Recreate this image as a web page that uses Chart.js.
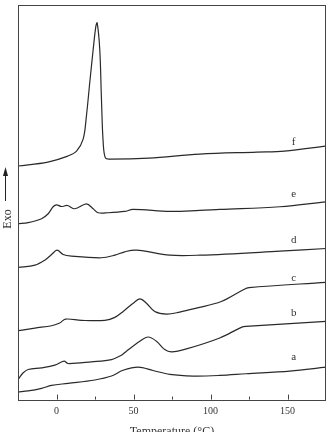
<!DOCTYPE html>
<html>
<head>
<meta charset="utf-8">
<script src="https://cdn.jsdelivr.net/npm/chart.js@4.4.1/dist/chart.umd.min.js"></script>
<style>
  body { margin: 0; background: #fff; }
  canvas { display: block; }
</style>
</head>
<body>
<canvas id="dscChart" width="331" height="432"></canvas>
<script>
// curves (temperature in °C, heat flow in arbitrary units, exo up)
const tempA = [-25, -18.4, -9.7, -3.2, 7.5, 24.9, 35.7, 43.2, 53, 62.7, 73.6, 88.7, 106, 123, 151.5, 175];
const heatA = [7.7, 8.7, 11.3, 14.3, 16.3, 19.7, 23.7, 29.5, 32.7, 29.3, 25.3, 23.7, 24.3, 26, 28.7, 32.7];

const tempB = [-25, -21.6, -18.4, -9.7, -1.1, 4.9, 7.5, 22.7, 35.7, 42.2, 45.4, 54.1, 59.5, 64.9, 70.3, 74.7, 84.4, 106, 120, 123, 175];
const heatB = [20.3, 27, 30.3, 32, 34.7, 38.7, 36.3, 38, 40.3, 44.7, 48.7, 58.7, 63, 58.7, 50.3, 48, 51, 62, 72.7, 73.7, 78.7];

const tempC = [-25, -14, -3.2, 2.1, 5.8, 16.2, 31.4, 37.9, 43.3, 49.8, 54.1, 58.4, 63.8, 71.4, 80, 90.8, 107, 121, 125, 175];
const heatC = [69.3, 72, 74.3, 77, 81, 79.7, 79.7, 82.7, 88.7, 97, 101.3, 97, 88.7, 86, 88, 92, 98.7, 110.3, 112.7, 118];

const tempD = [-25, -14, -7.6, -3.2, 0.4, 4.3, 9.7, 29.2, 37.9, 44.3, 51.9, 73.6, 93, 145, 175];
const heatD = [133, 135.3, 140.3, 146, 150.3, 146, 144.3, 142.7, 145.3, 148.7, 150.3, 145.3, 145.3, 149.3, 152];

const tempE = [-25, -18.4, -9.7, -5.4, -2.2, 0, 3.2, 7.1, 11.9, 19.5, 23.8, 27, 33.5, 44.3, 49.6, 73.6, 93, 106, 145, 175];
const heatE = [177, 178, 182, 187, 194, 196, 194.3, 195.3, 192, 197, 192, 188, 188, 189.3, 191.3, 189.3, 190.3, 191.3, 194, 199];

const tempF = [-25, -5.6, 7.3, 13, 17.3, 19.4, 21.6, 23.8, 25.5, 26.4, 28.1, 29.2, 30.3, 31.8, 35, 60, 93, 130, 148, 175];
const heatF = [235, 239, 245, 250, 262, 285, 319, 352, 375, 379, 352, 302, 259, 243, 242, 243, 247, 249, 250, 255];

const curveNames = ['a', 'b', 'c', 'd', 'e', 'f'];
const labelTemp = 154;
const labelHeat = [43, 87, 122, 160, 207, 259];

const majorTicks = [0, 50, 100, 150];
const minorTicks = [25, 75, 125];

const serif = 'Liberation Serif, Times New Roman, serif';
const ink = '#2a2a2a';

const toPoints = (xs, ys) => xs.map((x, i) => ({ x: x, y: ys[i] }));
const curves = [[tempA, heatA], [tempB, heatB], [tempC, heatC], [tempD, heatD], [tempE, heatE], [tempF, heatF]];

// frame, inward ticks, curve letters and the Exo arrow
const decorations = {
  id: 'decorations',
  beforeDraw(chart) {
    const ctx = chart.ctx;
    ctx.save();
    ctx.fillStyle = '#fff';
    ctx.fillRect(0, 0, chart.width, chart.height);
    ctx.restore();
  },
  afterDraw(chart) {
    const ctx = chart.ctx;
    const area = chart.chartArea;
    const xs = chart.scales.x;
    const ys = chart.scales.y;
    ctx.save();
    ctx.strokeStyle = '#444';
    ctx.lineWidth = 1;
    ctx.strokeRect(Math.round(area.left) + 0.5, Math.round(area.top) + 0.5,
      Math.round(area.right - area.left) - 1, Math.round(area.bottom - area.top));

    majorTicks.forEach(v => {
      const px = Math.round(xs.getPixelForValue(v)) + 0.5;
      ctx.beginPath();
      ctx.moveTo(px, area.bottom);
      ctx.lineTo(px, area.bottom - 5);
      ctx.stroke();
    });
    minorTicks.forEach(v => {
      const px = Math.round(xs.getPixelForValue(v)) + 0.5;
      ctx.beginPath();
      ctx.moveTo(px, area.bottom);
      ctx.lineTo(px, area.bottom - 3);
      ctx.stroke();
    });

    ctx.fillStyle = '#333';
    ctx.font = '11px ' + serif;
    ctx.textAlign = 'center';
    ctx.textBaseline = 'middle';
    curveNames.forEach((n, i) => {
      ctx.fillText(n, xs.getPixelForValue(labelTemp), ys.getPixelForValue(labelHeat[i]));
    });

    // Exo label with arrow
    ctx.save();
    ctx.translate(8, 219);
    ctx.rotate(-Math.PI / 2);
    ctx.font = '12px ' + serif;
    ctx.fillText('Exo', 0, 0);
    ctx.restore();

    ctx.strokeStyle = '#222';
    ctx.beginPath();
    ctx.moveTo(5.5, 201);
    ctx.lineTo(5.5, 174);
    ctx.stroke();
    ctx.fillStyle = '#222';
    ctx.beginPath();
    ctx.moveTo(5.5, 167);
    ctx.lineTo(3, 176);
    ctx.lineTo(8, 176);
    ctx.closePath();
    ctx.fill();
    ctx.restore();
  }
};

new Chart(document.getElementById('dscChart'), {
  type: 'line',
  data: {
    datasets: curves.map((c, i) => ({
      label: curveNames[i],
      data: toPoints(c[0], c[1]),
      borderColor: ink,
      borderWidth: 1.2,
      pointRadius: 0,
      fill: false,
      tension: 0.35
    }))
  },
  options: {
    responsive: false,
    animation: false,
    devicePixelRatio: 1,
    layout: { padding: { left: 18, right: 5, top: 5, bottom: 0 } },
    plugins: { legend: { display: false }, tooltip: { enabled: false } },
    scales: {
      x: {
        type: 'linear',
        min: -25,
        max: 175,
        afterBuildTicks: s => { s.ticks = majorTicks.map(v => ({ value: v })); },
        grid: { display: false, drawTicks: false },
        border: { display: false },
        ticks: { font: { family: serif, size: 10 }, color: '#333', padding: 6, maxRotation: 0 },
        title: {
          display: true,
          text: 'Temperature (°C)',
          font: { family: serif, size: 12 },
          color: '#333',
          padding: { top: 1, bottom: -7 }
        }
      },
      y: {
        type: 'linear',
        min: 0,
        max: 397,
        display: false
      }
    }
  },
  plugins: [decorations]
});
</script>
</body>
</html>
